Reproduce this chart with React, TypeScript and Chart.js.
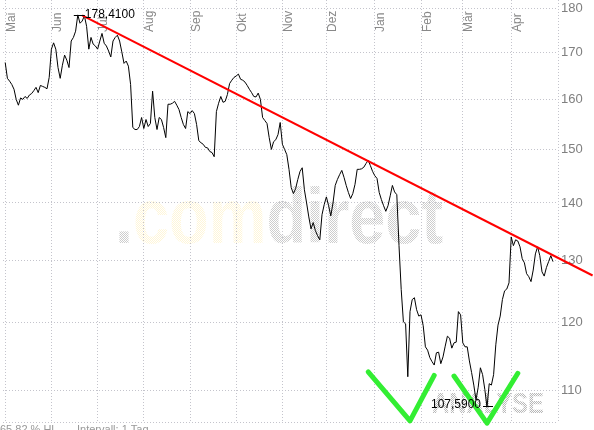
import React, { useEffect, useRef } from 'react';
import { Chart, registerables } from 'chart.js';

Chart.register(...registerables);

// ---- data ----
const monthLabels = ['Mai', 'Jun', 'Jul', 'Aug', 'Sep', 'Okt', 'Nov', 'Dez', 'Jan', 'Feb', 'Mär', 'Apr'];
const monthStartDays = [1, 22, 43, 64, 85, 106, 127, 147, 169, 190, 209, 231];
const yTickValues = [110, 120, 130, 140, 150, 160, 170, 180];
const firstDay = 1;
const closePrices = [
  167.8, 164.4, 163.8, 163.1, 162.1, 160.0, 158.8, 160.3, 160.0, 160.6,
  160.2, 160.9, 161.2, 161.8, 162.5, 161.4, 162.9, 162.7, 162.5, 162.2,
  164.6, 170.7, 172.1, 170.7, 166.7, 164.4, 167.2, 169.4, 168.3, 166.7,
  172.5, 173.3, 174.7, 178.41, 176.5, 177.0, 178.2, 175.8, 170.7, 173.3,
  171.8, 171.4, 170.7, 172.5, 174.2, 172.0, 171.4, 170.3, 169.0, 172.5,
  173.3, 173.8, 172.5, 170.1, 167.6, 168.1, 167.0, 163.1, 154.3, 153.9,
  153.9, 154.5, 156.3, 154.1, 155.9, 154.5, 155.1, 161.7, 156.3, 153.9,
  156.3, 155.9, 154.3, 152.3, 159.0, 159.0, 159.2, 159.6, 158.8, 157.9,
  156.3, 154.9, 154.1, 157.5, 157.1, 157.7, 157.1, 154.9, 151.7, 151.3,
  151.0, 150.4, 150.3, 149.6, 149.4, 148.6, 157.5, 159.2, 160.6, 159.4,
  159.6, 161.0, 163.3, 164.0, 164.6, 164.9, 165.3, 164.2, 164.0, 163.6,
  162.9, 162.1, 161.4, 160.6, 160.5, 161.3, 160.0, 156.3, 155.7, 155.1,
  152.3, 150.0, 151.5, 151.9, 152.9, 155.3, 151.0, 150.0, 149.0, 146.2,
  142.8, 141.7, 142.6, 144.3, 145.8, 146.5, 142.4, 140.0, 137.5, 135.4,
  136.5, 135.1, 134.2, 133.5, 137.9, 139.7, 141.1, 139.5, 137.7, 140.0,
  143.2, 144.3, 145.2, 146.0, 144.7, 143.2, 141.9, 140.8, 141.7, 143.4,
  146.2, 146.2, 146.3, 146.6, 147.3, 147.9, 146.9, 145.8, 145.0, 144.5,
  141.9, 140.6, 139.5, 138.5, 139.5, 141.3, 143.2, 142.0, 141.5, 132.5,
  125.2, 120.1, 119.8, 111.9, 121.7, 123.6, 123.9, 122.0, 121.0, 121.2,
  119.5, 116.3, 115.8, 114.7, 114.1, 113.6, 115.4, 115.5, 113.8, 114.8,
  116.4, 117.9, 117.6, 116.1, 116.9, 117.0, 121.7, 121.2, 116.9, 116.3,
  116.3, 114.2, 112.5, 110.7, 108.6, 110.4, 113.2, 112.2, 110.1, 107.59,
  110.9, 110.7, 112.2, 116.6, 119.6, 121.0, 123.6, 125.0, 125.3, 126.3,
  134.0, 132.5, 133.5, 133.3, 132.3, 130.3, 129.6, 127.8, 127.3, 126.5,
  128.4, 131.1, 132.3, 130.8, 128.1, 127.4, 128.8, 129.8, 130.8, 129.8,
];
const highDay = 34;
const highLabel = '178,4100';
const lowDay = 220;
const lowLabel = '107,5900';
const trendDays = [36, 268];
const trendPrices = [178.3, 127.5];
const checkMarkDays = [[166, 185, 196], [205, 220, 234]];
const checkMarkPrices = [[112.6, 105.7, 112.1], [112.0, 105.4, 112.4]];
const footerTexts = ['65,82 % HL', 'Intervall: 1 Tag'];
const xMin = 0;
const xMax = 252.27;
const yMin = 105.42;
const yMax = 181.87;

// ---- styles ----
const FONT = '"Liberation Sans", Arial, Helvetica, sans-serif';
const GRID = '#c4c4cc';

function halftone(ctx: CanvasRenderingContext2D, color: string, sx: number) {
  const c = document.createElement('canvas');
  c.width = 2;
  c.height = 2;
  const g = c.getContext('2d')!;
  g.fillStyle = color;
  g.fillRect(0, 0, 1, 1);
  g.fillRect(1, 1, 1, 1);
  const p: any = ctx.createPattern(c, 'repeat');
  if (p && p.setTransform) p.setTransform(new DOMMatrix().scale(1 / sx, 1));
  return p;
}

function drawWord(ctx: CanvasRenderingContext2D, parts: [string, string][], font: string, left: number, baseline: number, width: number) {
  ctx.save();
  ctx.font = font;
  ctx.textAlign = 'left';
  ctx.textBaseline = 'alphabetic';
  const natural = ctx.measureText(parts.map((p) => p[0]).join('')).width;
  const sx = width / natural;
  ctx.translate(left, baseline);
  ctx.scale(sx, 1);
  let x = 0;
  for (const [t, color] of parts) {
    ctx.fillStyle = halftone(ctx, color, sx);
    ctx.fillText(t, x, 0);
    x += ctx.measureText(t).width;
  }
  ctx.restore();
}

const decorPlugin = {
  id: 'decor',
  beforeDraw(chart: any) {
    const ctx = chart.ctx as CanvasRenderingContext2D;
    drawWord(ctx, [['.', '#cdcdcd'], ['com', '#fff6d8'], ['direct', '#cdcdcd']], `bold 77px ${FONT}`, 115, 243, 328);
    drawWord(ctx, [['ANALYSE', '#b4b4b4']], `bold 29px ${FONT}`, 432, 413, 112);
  },
  beforeDatasetsDraw(chart: any) {
    const ctx = chart.ctx as CanvasRenderingContext2D;
    const { chartArea, scales } = chart;
    const xs = scales.x;
    ctx.save();
    ctx.strokeStyle = GRID;
    ctx.lineWidth = 1;
    ctx.setLineDash([1, 2]);
    ctx.beginPath();
    ctx.moveTo(Math.round(chartArea.right) + 0.5, chartArea.top);
    ctx.lineTo(Math.round(chartArea.right) + 0.5, chartArea.bottom);
    ctx.moveTo(chartArea.left, Math.round(chartArea.bottom) - 0.5);
    ctx.lineTo(chartArea.right, Math.round(chartArea.bottom) - 0.5);
    ctx.stroke();
    ctx.setLineDash([]);
    ctx.fillStyle = '#888888';
    ctx.font = `12px ${FONT}`;
    ctx.textAlign = 'left';
    ctx.textBaseline = 'alphabetic';
    monthLabels.forEach((lab, i) => {
      const px = xs.getPixelForValue(monthStartDays[i]);
      ctx.save();
      ctx.translate(px + 9.5, 32);
      ctx.rotate(-Math.PI / 2);
      ctx.fillText(lab, 0, 0);
      ctx.restore();
    });
    ctx.restore();
  },
  afterDatasetsDraw(chart: any) {
    const ctx = chart.ctx as CanvasRenderingContext2D;
    const xs = chart.scales.x;
    const ys = chart.scales.y;
    ctx.save();
    ctx.strokeStyle = '#ff0000';
    ctx.lineWidth = 2;
    ctx.beginPath();
    ctx.moveTo(xs.getPixelForValue(trendDays[0]), ys.getPixelForValue(trendPrices[0]));
    ctx.lineTo(xs.getPixelForValue(trendDays[1]), ys.getPixelForValue(trendPrices[1]));
    ctx.stroke();
    ctx.strokeStyle = '#33ee33';
    ctx.lineWidth = 5;
    ctx.lineCap = 'round';
    ctx.lineJoin = 'round';
    checkMarkDays.forEach((days, k) => {
      ctx.beginPath();
      days.forEach((d, j) => {
        const px = xs.getPixelForValue(d);
        const py = ys.getPixelForValue(checkMarkPrices[k][j]);
        if (j === 0) ctx.moveTo(px, py);
        else ctx.lineTo(px, py);
      });
      ctx.stroke();
    });
    ctx.strokeStyle = '#000';
    ctx.lineWidth = 1;
    ctx.lineCap = 'butt';
    ctx.fillStyle = '#000';
    ctx.font = `12px ${FONT}`;
    ctx.textBaseline = 'middle';
    const hx = xs.getPixelForValue(highDay);
    const hy = Math.round(ys.getPixelForValue(closePrices[highDay - firstDay])) + 0.5;
    ctx.beginPath();
    ctx.moveTo(hx - 4, hy);
    ctx.lineTo(hx + 7, hy);
    ctx.stroke();
    ctx.textAlign = 'left';
    ctx.fillText(highLabel, hx + 7, hy - 1);
    const lx = xs.getPixelForValue(lowDay);
    const ly = Math.round(ys.getPixelForValue(closePrices[lowDay - firstDay])) - 0.5;
    ctx.beginPath();
    ctx.moveTo(lx - 4, ly);
    ctx.lineTo(lx + 6, ly);
    ctx.stroke();
    ctx.textAlign = 'right';
    ctx.fillText(lowLabel, lx - 6, ly - 1.5);
    ctx.fillStyle = '#999999';
    ctx.font = `11px ${FONT}`;
    ctx.textAlign = 'left';
    ctx.textBaseline = 'top';
    ctx.fillText(footerTexts[0], 0, 424);
    ctx.fillText(footerTexts[1], 77, 424);
    ctx.restore();
  },
};

export default function App() {
  const ref = useRef<HTMLCanvasElement>(null);
  useEffect(() => {
    document.body.style.margin = '0';
    const canvas = ref.current!;
    const chart = new Chart(canvas, {
      type: 'line',
      data: {
        datasets: [
          {
            data: closePrices.map((p, i) => ({ x: firstDay + i, y: p })),
            borderColor: '#000000',
            borderWidth: 1,
            pointRadius: 0,
            tension: 0,
            fill: false,
          },
        ],
      },
      options: {
        animation: false,
        responsive: false,
        devicePixelRatio: 1,
        layout: { padding: { left: 3, top: 0, right: 0, bottom: 0 } },
        plugins: { legend: { display: false }, tooltip: { enabled: false } },
        scales: {
          x: {
            type: 'linear',
            min: xMin,
            max: xMax,
            afterBuildTicks: (s: any) => {
              s.ticks = monthStartDays.map((v) => ({ value: v }));
            },
            afterFit: (s: any) => {
              s.height = 7;
              s.paddingLeft = 0;
              s.paddingRight = 0;
            },
            ticks: { display: false },
            grid: { color: GRID, lineWidth: 1, drawTicks: false },
            border: { display: false, dash: [1, 2] },
          },
          y: {
            type: 'logarithmic',
            position: 'right',
            min: yMin,
            max: yMax,
            afterBuildTicks: (s: any) => {
              s.ticks = yTickValues.map((v) => ({ value: v }));
            },
            afterFit: (s: any) => {
              s.width = 36;
              s.paddingTop = 0;
              s.paddingBottom = 0;
            },
            ticks: {
              callback: (v: any) => String(v),
              color: '#808080',
              font: { family: FONT, size: 13 },
              padding: 3,
            },
            grid: { color: GRID, lineWidth: 1, drawTicks: false },
            border: { display: false, dash: [1, 2] },
          },
        },
      } as any,
      plugins: [decorPlugin],
    });
    return () => chart.destroy();
  }, []);
  return (
    <div style={{ width: 594, height: 430, position: 'relative', background: '#fff' }}>
      <canvas ref={ref} width={594} height={430} style={{ display: 'block' }} />
    </div>
  );
}
